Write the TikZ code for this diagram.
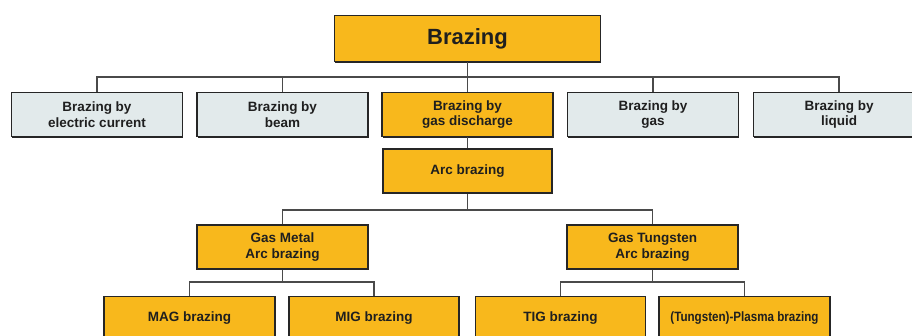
\documentclass[tikz,border=0pt]{standalone}
\usepackage{fontspec}
\usepackage{graphicx}
\setmainfont{Liberation Sans}
\usetikzlibrary{shadows}
\definecolor{boxorange}{HTML}{F8B81C}
\definecolor{boxgray}{HTML}{E2EAEB}
\definecolor{edgedark}{HTML}{262626}
\definecolor{linegray}{HTML}{4A4A4A}
\tikzset{
  basebox/.style={draw=edgedark, line width=1.4pt, align=center, inner sep=1pt,
    font=\bfseries\fontsize{13.5}{15.5}\selectfont, text=black!88,
    drop shadow={shadow xshift=0.9pt, shadow yshift=-1.4pt, fill=edgedark, opacity=1}},
  orangebox/.style={basebox, fill=boxorange},
  graybox/.style={basebox, fill=boxgray},
  rowbox/.style={minimum width=171pt, minimum height=44pt},
  conn/.style={draw=linegray, line width=1.3pt}
}
\begin{document}
\begin{tikzpicture}[x=1pt,y=-1pt]
\useasboundingbox (0,0) rectangle (912,336);
\clip (0,0) rectangle (912,336);
\fill[white] (0,0) rectangle (912,336);
% nodes
\node[orangebox, minimum width=266pt, minimum height=46pt, font=\bfseries\fontsize{22}{24}\selectfont] (top) at (467.5,38.5) {Brazing};
\node[graybox, rowbox] (r1) at (97,114.5) {Brazing by\\electric current};
\node[graybox, rowbox] (r2) at (282.5,114.5) {Brazing by\\beam};
\node[orangebox, rowbox] (r3) at (467.5,114.5) {Brazing by\\gas discharge};
\node[graybox, rowbox] (r4) at (653,114.5) {Brazing by\\gas};
\node[graybox, rowbox] (r5) at (839,114.5) {Brazing by\\liquid};
\node[orangebox, rowbox, minimum width=169pt] (arc) at (467.5,171) {Arc brazing};
\node[orangebox, rowbox] (gm) at (282.5,247) {Gas Metal\\Arc brazing};
\node[orangebox, rowbox] (gt) at (652.5,247) {Gas Tungsten\\Arc brazing};
\node[orangebox, rowbox] (mag) at (189.5,318.5) {MAG brazing};
\node[orangebox, rowbox, minimum width=170pt] (mig) at (374,318.5) {MIG brazing};
\node[orangebox, rowbox, minimum width=170pt] (tig) at (560.5,318.5) {TIG brazing};
\node[orangebox, rowbox] (pla) at (744.5,318.5) {\scalebox{0.86}[1]{(Tungsten)-Plasma brazing}};
% bus coordinates
\coordinate (b1) at (467.5,77);
\coordinate (b2) at (467.5,210);
\coordinate (b3) at (282.5,282);
\coordinate (b4) at (652.5,282);
% connectors
\draw[conn] (top.south) -- (r3.north);
\draw[conn] (b1) -| (r1.north);
\draw[conn] (b1) -| (r2.north);
\draw[conn] (b1) -| (r4.north);
\draw[conn] (b1) -| (r5.north);
\draw[conn] (r3.south) -- (arc.north);
\draw[conn] (arc.south) -- (b2);
\draw[conn] (b2) -| (gm.north);
\draw[conn] (b2) -| (gt.north);
\draw[conn] (gm.south) -- (b3);
\draw[conn] (b3) -| (mag.north);
\draw[conn] (b3) -| (mig.north);
\draw[conn] (gt.south) -- (b4);
\draw[conn] (b4) -| (tig.north);
\draw[conn] (b4) -| (pla.north);
\end{tikzpicture}
\end{document}
